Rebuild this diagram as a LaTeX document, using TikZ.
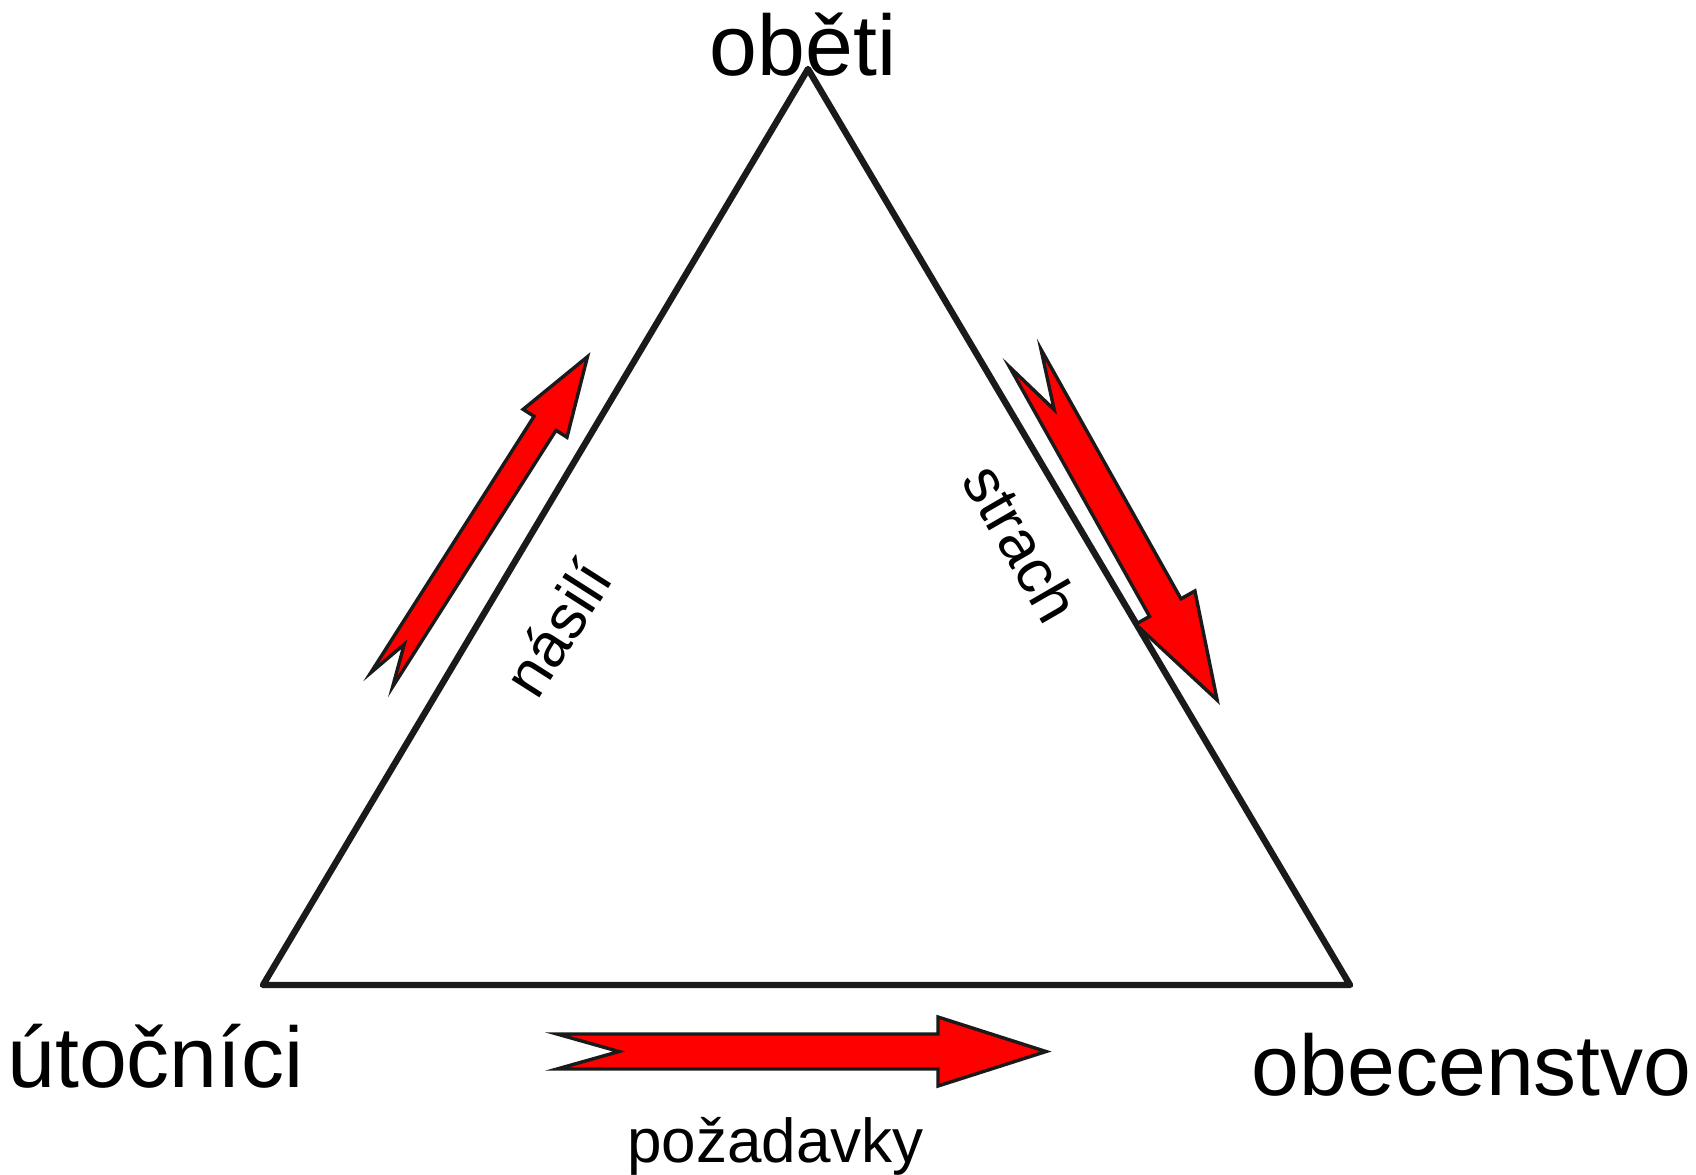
\documentclass[tikz,border=0pt]{standalone}
\usepackage{fontspec}
\setmainfont{Liberation Sans}
\definecolor{edge}{HTML}{1A1A1A}
\definecolor{arrowred}{HTML}{FF0000}
\tikzset{
  side/.style={draw=edge, line width=3.2pt, line join=round, line cap=round},
  redarrow/.style={draw=edge, line width=1.7pt, fill=arrowred, line join=miter},
  biglabel/.style={inner sep=0pt, font=\fontsize{43}{51}\selectfont},
  smalllabel/.style={inner sep=0pt, font=\fontsize{31}{37}\selectfont},
}
% tail centre, angle, length, shaft half-width, head half-width, head length, notch depth
\newcommand\notcharrow[7]{%
  \begin{scope}[shift={#1}, rotate=#2]
    \draw[redarrow] (0,#4) -- ({#3-#6},#4) -- ({#3-#6},#5) -- (#3,0)
      -- ({#3-#6},-#5) -- ({#3-#6},-#4) -- (0,-#4) -- (#7,0) -- cycle;
  \end{scope}}
\begin{document}
\begin{tikzpicture}[x=0.5pt, y=-0.5pt]
  \useasboundingbox (0,0) rectangle (1696,1174);
  % triangle corners
  \coordinate (top) at (808,69);
  \coordinate (left) at (263,985);
  \coordinate (right) at (1350,985);
  \draw[side] (top) -- (left) -- (right) -- cycle;
  % arrows
  \coordinate (tailViolence) at (381.7,679.7);
  \coordinate (tailFear) at (1025.3,358.2);
  \coordinate (tailDemands) at (557,1051.5);
  \notcharrow{(tailViolence)}{57.5}{383}{13}{26}{79}{42}
  \notcharrow{(tailFear)}{-60.7}{392}{18}{34}{106}{59}
  \notcharrow{(tailDemands)}{0}{489}{17.5}{34.5}{108}{62}
  % labels
  \node[biglabel, anchor=base] (victims) at (803,75) {oběti};
  \node[biglabel, anchor=base west] (attackers) at (7,1087) {útočníci};
  \node[biglabel, anchor=base west] (audience) at (1251.5,1095) {obecenstvo};
  \node[smalllabel, anchor=base] (demands) at (775.5,1162) {požadavky};
  \node[smalllabel, rotate=57.5] (violence) at (557,628) {násilí};
  \node[smalllabel, rotate=-60] (fear) at (1022,543) {strach};
\end{tikzpicture}
\end{document}
